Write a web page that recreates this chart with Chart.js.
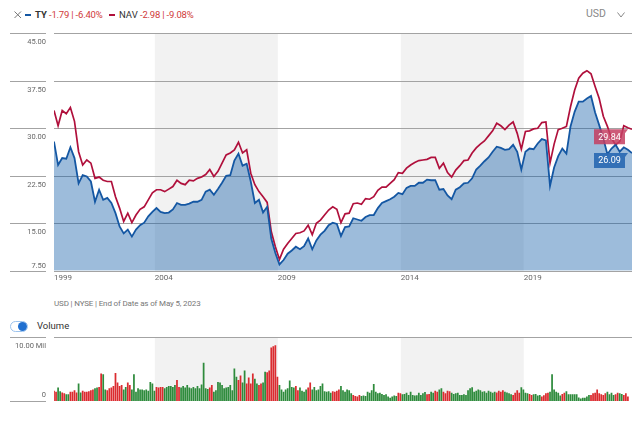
<!DOCTYPE html>
<html>
<head>
<meta charset="utf-8">
<script src="https://cdn.jsdelivr.net/npm/chart.js@4.4.0/dist/chart.umd.min.js"></script>
<style>
    body { margin: 0; background: #fff; font-family: Roboto, "Liberation Sans", sans-serif; }
    #wrap { position: relative; width: 640px; height: 436px; overflow: hidden; }
    .txt { position: absolute; white-space: nowrap; line-height: 1; }
    .mark { position: absolute; height: 2px; }
    canvas { position: absolute; left: 0; }
</style>
</head>
<body>
<div id="wrap">
    <svg style="position:absolute; left:14px; top:11px;" width="8" height="8">
        <path d="M0.5 0.5 L7 7 M7 0.5 L0.5 7" fill="none" stroke="#777" stroke-width="1"></path>
    </svg>
    <div class="mark" style="left:25px; top:14px; width:6px; background:#1457a3;"></div>
    <span class="txt" style="left:35px; top:10px; font-size:9.5px; font-weight:bold; color:#333;">TY</span>
    <span class="txt" style="left:49px; top:10px; font-size:9.5px; color:#d03a3a; letter-spacing:-0.2px;">-1.79 | -6.40%</span>
    <div class="mark" style="left:109px; top:14px; width:6px; background:#b0103c;"></div>
    <span class="txt" style="left:119px; top:10px; font-size:9.5px; color:#333;">NAV</span>
    <span class="txt" style="left:140px; top:10px; font-size:9.5px; color:#d03a3a; letter-spacing:-0.2px;">-2.98 | -9.08%</span>
    <span class="txt" style="left:586px; top:9px; font-size:10.5px; color:#888;">USD</span>
    <svg style="position:absolute; left:617px; top:12px;" width="8" height="6">
        <polyline points="0.5,0.5 4,5 7.5,0.5" fill="none" stroke="#888" stroke-width="1"></polyline>
    </svg>

    <canvas id="price-chart" width="640" height="290" style="top:0;"></canvas>

    <span class="txt" style="left:54px; top:300px; font-size:8px; color:#777; letter-spacing:-0.15px;">USD | NYSE | End of Date as of May 5, 2023</span>
    <div style="position:absolute; left:10px; top:321px; width:16px; height:9px; border:1px solid #9cc3ee; border-radius:6px;"></div>
    <div style="position:absolute; left:18px; top:322px; width:9px; height:9px; border-radius:50%; background:#1f6fd0;"></div>
    <span class="txt" style="left:37px; top:321px; font-size:9.5px; color:#333;">Volume</span>

    <canvas id="volume-chart" width="640" height="80" style="top:330px;"></canvas>
</div>

<script>
// first point is about Dec 1999, then one point every two months up to May 2023
const START = 1999.9;
const END = 2023.4;

const navValues = [
    32.8, 30.4, 32.8, 32.3, 33.3, 31.1, 26.3, 24.2, 25.0, 24.5, 22.1, 22.3,
    21.8, 21.6, 21.6, 19.2, 17.4, 15.3, 16.6, 15.1, 16.3, 17.2, 17.6, 18.7,
    19.8, 20.3, 20.3, 20.0, 20.4, 20.8, 21.8, 21.3, 21.1, 21.8, 21.7, 22.1,
    22.3, 22.7, 23.5, 22.4, 23.2, 24.5, 25.8, 26.1, 26.6, 27.8, 26.1, 26.6,
    22.9, 21.1, 20.0, 19.2, 18.3, 13.7, 11.3, 9.3, 10.9, 11.8, 12.6, 13.4,
    13.5, 13.8, 14.7, 13.2, 15.0, 15.5, 16.3, 17.1, 17.6, 17.2, 15.1, 16.5,
    16.6, 18.1, 18.2, 18.0, 18.9, 18.8, 19.2, 20.2, 20.7, 20.7, 21.3, 21.9,
    23.0, 22.9, 23.7, 24.2, 24.6, 24.9, 25.0, 25.1, 25.4, 25.4, 23.7, 24.5,
    23.0, 22.3, 23.4, 24.1, 24.9, 25.0, 26.1, 26.9, 27.5, 28.0, 28.8, 29.6,
    30.8, 30.4, 29.8, 30.5, 31.0, 29.2, 26.7, 29.5, 29.6, 29.9, 30.0, 30.9,
    31.0, 24.5, 27.5, 29.8, 30.0, 30.3, 33.4, 36.0, 37.9, 38.7, 39.1, 38.6,
    36.6, 34.7, 31.9, 30.3, 28.4, 27.4, 27.9, 30.4, 30.1, 29.84
];

const tyValues = [
    27.9, 24.2, 25.3, 25.2, 27.0, 25.3, 21.3, 22.6, 22.4, 21.6, 18.4, 20.3,
    18.7, 19.0, 18.2, 16.6, 14.5, 13.4, 14.0, 12.9, 14.0, 14.7, 15.1, 16.1,
    16.8, 17.4, 16.8, 16.6, 16.7, 17.2, 18.2, 17.9, 17.9, 18.1, 18.4, 18.4,
    18.7, 20.0, 20.3, 19.5, 20.4, 21.4, 22.5, 22.6, 24.9, 26.0, 24.1, 24.4,
    21.6, 18.2, 18.7, 16.7, 17.6, 12.6, 10.3, 8.5, 9.2, 10.2, 10.7, 11.3,
    10.9, 11.4, 12.6, 10.9, 12.3, 13.2, 13.8, 14.7, 15.1, 14.9, 13.0, 14.4,
    14.5, 15.8, 15.6, 15.4, 16.0, 16.3, 16.3, 17.4, 18.2, 18.5, 18.8, 19.2,
    19.8, 19.6, 20.6, 20.9, 20.9, 21.4, 21.4, 21.9, 21.8, 21.8, 20.3, 20.4,
    19.4, 18.8, 20.3, 20.7, 21.3, 21.4, 22.1, 23.5, 24.1, 24.8, 25.4, 26.3,
    27.1, 26.9, 26.6, 26.7, 27.4, 26.3, 23.5, 26.3, 26.8, 26.7, 27.6, 28.3,
    28.1, 20.9, 23.8, 25.6, 26.8, 26.0, 30.3, 32.6, 34.2, 34.2, 34.7, 35.1,
    32.5, 30.5, 28.4, 25.9, 26.8, 27.4, 26.3, 27.0, 26.6, 26.09
];

// monthly volume, millions of shares
const volumes = [
    1.6, 1.45, 2.1, 1.55, 1.35, 1.2, 1.05, 1.05, 1.45, 1.45, 1.7, 1.35,
    2.75, 1.35, 1.6, 1.45, 1.45, 1.55, 1.7, 1.8, 2.0, 2.1,
    2.2, 4.3, 4.2, 1.8, 1.7, 2.0, 2.1, 2.35,
    4.4, 2.9, 2.35, 2.5, 1.8, 2.2, 2.9, 2.5, 1.8, 4.2,
    1.45, 2.0, 1.8, 1.8, 1.7, 1.8, 1.6, 3.0, 2.75, 1.6,
    2.2, 2.1, 2.2, 2.2, 2.0, 2.2, 2.35, 2.35, 2.2, 2.5,
    3.3, 2.2, 2.1, 2.35, 2.1, 2.5, 2.1, 2.0, 2.2, 2.0,
    2.35, 2.0, 2.6, 6.0, 2.0, 1.9, 2.1, 2.5, 1.45, 1.7,
    3.0, 2.9, 2.5, 2.0, 2.1, 2.2, 2.5, 1.7, 5.1, 3.8,
    3.3, 4.0, 2.9, 4.8, 2.75, 3.7, 2.75, 4.3, 3.5, 2.75,
    2.5, 2.75, 2.9, 4.6, 4.5, 4.8, 8.4, 8.6, 8.75, 3.8,
    2.5, 1.8, 1.45, 1.8, 2.0, 3.2, 2.2, 2.1, 2.35, 1.7,
    2.1, 1.6, 1.45, 1.8, 2.1, 2.9, 1.8, 2.2, 1.7, 1.8,
    2.35, 2.75, 1.55, 1.45, 1.55, 1.3, 1.55, 1.45, 1.6, 1.8,
    2.35, 1.7, 1.45, 1.8, 1.7, 1.2, 0.95, 0.8, 0.7, 0.95,
    0.8, 0.85, 0.8, 1.45, 1.3, 1.7, 2.65, 1.45, 1.2, 1.3,
    1.1, 0.95, 1.05, 0.7, 0.5, 0.7, 0.85, 0.8, 1.3, 1.2,
    1.05, 1.1, 1.3, 0.95, 1.45, 0.95, 0.85, 0.9, 1.3, 0.95,
    1.2, 1.4, 1.05, 1.1, 1.45, 1.3, 1.6, 1.45, 1.8, 2.0,
    1.45, 1.2, 1.6, 1.55, 1.3, 1.1, 1.2, 1.3, 0.95, 0.95,
    1.05, 0.95, 1.7, 2.0, 2.15, 1.45, 1.6, 1.8, 1.7, 1.45,
    1.55, 1.3, 1.6, 1.45, 1.3, 1.45, 1.35, 1.6, 1.45, 1.7,
    1.45, 1.35, 1.2, 1.05, 0.95, 1.3, 1.7, 1.3, 2.15, 1.8,
    1.3, 1.2, 1.1, 0.95, 1.05, 1.1, 0.85, 0.95, 0.7, 0.9,
    1.2, 1.3, 1.45, 4.2, 1.8, 1.45, 1.3, 0.85, 1.1, 1.3,
    1.55, 1.05, 1.05, 1.05, 1.05, 1.05, 0.55, 0.4, 0.5, 0.5,
    0.7, 0.95, 0.95, 1.2, 1.3, 1.8, 1.2, 1.05, 0.95, 1.2,
    1.45, 1.05, 1.3, 0.95, 1.05, 1.3, 1.2, 1.1, 0.95, 1.2, 0.7
];

const yTicks = [45, 37.5, 30, 22.5, 15, 7.5];
const yTickLabels = ['45.00', '37.50', '30.00', '22.50', '15.00', '7.50'];
const yearTicks = [1999, 2004, 2009, 2014, 2019];
const shadedSpans = [[2004, 2009], [2014, 2019]];
const volTicks = [10, 0];
const volTickLabels = ['10.00 Mil', '0'];

const priceDates = navValues.map((_, i) => START + i / 6);
const volDates = volumes.map((_, i) => START + i / 12);

const GRID = '#a3a3a3';
const LABEL = '#666';

function drawBands(chart) {
    const { ctx, chartArea: a, scales: { x } } = chart;
    ctx.save();
    ctx.fillStyle = '#f2f2f2';
    shadedSpans.forEach(([s, e]) => {
        const x0 = x.getPixelForValue(s);
        const x1 = x.getPixelForValue(e);
        ctx.fillRect(x0, a.top, x1 - x0, a.bottom - a.top);
    });
    ctx.restore();
}

function hLine(ctx, x0, x1, y) {
    ctx.beginPath();
    ctx.moveTo(x0, y);
    ctx.lineTo(x1, y);
    ctx.stroke();
}

const priceDecor = {
    id: 'priceDecor',
    beforeDatasetsDraw(chart) {
        const { ctx, chartArea: a, scales: { y } } = chart;
        drawBands(chart);
        ctx.save();
        ctx.strokeStyle = GRID;
        ctx.lineWidth = 1;
        yTicks.forEach(v => {
            const py = Math.round(y.getPixelForValue(v)) + 0.5;
            hLine(ctx, 10, 46, py);
            hLine(ctx, a.left, a.right, py);
        });
        ctx.restore();
    },
    afterDraw(chart) {
        const { ctx, chartArea: a, scales: { x, y } } = chart;
        ctx.save();
        ctx.fillStyle = LABEL;
        ctx.font = '7.5px Roboto';
        ctx.textAlign = 'right';
        yTicks.forEach((v, i) => {
            const py = y.getPixelForValue(v);
            const last = i === yTicks.length - 1;
            ctx.fillText(yTickLabels[i], 46, last ? py - 3 : py + 11);
        });
        ctx.font = '8px Roboto';
        ctx.textAlign = 'left';
        yearTicks.forEach(yr => {
            const px = Math.max(a.left, x.getPixelForValue(yr));
            ctx.fillText(String(yr), px, a.bottom + 9);
        });

        // last value tags
        const tags = [
            { v: navValues[navValues.length - 1], color: 'rgba(196, 62, 98, 0.85)' },
            { v: tyValues[tyValues.length - 1], color: 'rgba(45, 108, 180, 0.95)' }
        ];
        ctx.font = '9px Roboto';
        ctx.textAlign = 'center';
        ctx.textBaseline = 'middle';
        tags.forEach(t => {
            const top = y.getPixelForValue(t.v);
            ctx.fillStyle = t.color;
            ctx.beginPath();
            ctx.moveTo(594, top);
            ctx.lineTo(628, top);
            ctx.lineTo(625, top + 4);
            ctx.lineTo(625, top + 15);
            ctx.lineTo(594, top + 15);
            ctx.closePath();
            ctx.fill();
            ctx.fillStyle = '#fff';
            ctx.fillText(t.v.toFixed(2), 609.5, top + 8);
        });
        ctx.restore();
    }
};

const volumeDecor = {
    id: 'volumeDecor',
    beforeDatasetsDraw(chart) {
        const { ctx, chartArea: a, scales: { y } } = chart;
        drawBands(chart);
        ctx.save();
        ctx.strokeStyle = GRID;
        ctx.lineWidth = 1;
        volTicks.forEach((v, i) => {
            const py = Math.round(y.getPixelForValue(v)) + 0.5;
            hLine(ctx, 10, 46, py);
            if (i === 0) hLine(ctx, a.left, a.right, py);
        });
        ctx.restore();
    },
    afterDraw(chart) {
        const { ctx, scales: { y } } = chart;
        ctx.save();
        ctx.fillStyle = LABEL;
        ctx.font = '7.5px Roboto';
        ctx.textAlign = 'right';
        volTicks.forEach((v, i) => {
            const py = y.getPixelForValue(v);
            ctx.fillText(volTickLabels[i], 46, i === 0 ? py + 11 : py - 4);
        });
        ctx.restore();
    }
};

new Chart(document.getElementById('price-chart'), {
    type: 'line',
    data: {
        datasets: [{
            label: 'TY',
            data: tyValues.map((v, i) => ({ x: priceDates[i], y: v })),
            borderColor: '#1457a3',
            backgroundColor: 'rgba(22, 96, 170, 0.42)',
            borderWidth: 1.8,
            pointRadius: 0,
            fill: 'start',
            tension: 0
        }, {
            label: 'NAV',
            data: navValues.map((v, i) => ({ x: priceDates[i], y: v })),
            borderColor: '#b0103c',
            borderWidth: 1.7,
            pointRadius: 0,
            fill: false,
            tension: 0
        }]
    },
    options: {
        responsive: false,
        animation: false,
        devicePixelRatio: 1,
        layout: { padding: { left: 54, right: 8, top: 33.3, bottom: 19.2 } },
        plugins: { legend: { display: false }, tooltip: { enabled: false } },
        scales: {
            x: { type: 'linear', min: START, max: END, display: false },
            y: { min: 7.5, max: 45, display: false }
        }
    },
    plugins: [priceDecor]
});

new Chart(document.getElementById('volume-chart'), {
    type: 'bar',
    data: {
        datasets: [{
            label: 'Volume',
            data: volumes.map((v, k) => ({ x: volDates[k], y: v })),
            backgroundColor: volumes.map((_, k) => {
                const j = Math.min(Math.floor(k / 2), tyValues.length - 2);
                return tyValues[j + 1] >= tyValues[j] ? '#2e8b3c' : '#db2b2f';
            }),
            borderWidth: 0,
            barPercentage: 1,
            categoryPercentage: 0.85
        }]
    },
    options: {
        responsive: false,
        animation: false,
        devicePixelRatio: 1,
        layout: { padding: { left: 54, right: 8, top: 7.3, bottom: 9 } },
        plugins: { legend: { display: false }, tooltip: { enabled: false } },
        scales: {
            x: { type: 'linear', min: START, max: END, offset: false, display: false },
            y: { min: 0, max: 10, display: false }
        }
    },
    plugins: [volumeDecor]
});
</script>
</body>
</html>
